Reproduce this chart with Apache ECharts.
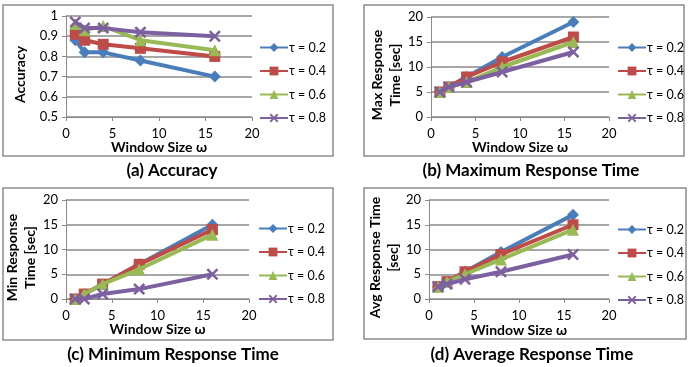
<!DOCTYPE html>
<html>
<head>
<meta charset="utf-8">
<script src="https://cdn.jsdelivr.net/npm/echarts@6/dist/echarts.min.js"></script>
<style>
html,body{margin:0;padding:0;background:#fff;}
#chart{width:688px;height:367px;}
</style>
</head>
<body>
<div id="chart"></div>
<script>
// ---- data ----
const windowSizes = [1, 2, 4, 8, 16];
const seriesNames = ['τ = 0.2', 'τ = 0.4', 'τ = 0.6', 'τ = 0.8'];

const accuracy02 = [0.88, 0.82, 0.82, 0.78, 0.70];
const accuracy04 = [0.91, 0.88, 0.86, 0.84, 0.80];
const accuracy06 = [0.96, 0.93, 0.95, 0.88, 0.83];
const accuracy08 = [0.97, 0.94, 0.94, 0.92, 0.90];

const maxResp02 = [5, 6, 8, 12, 19];
const maxResp04 = [5, 6, 8, 11, 16];
const maxResp06 = [5, 6, 7, 10, 15];
const maxResp08 = [5, 6, 7, 9, 13];

const minResp02 = [0, 1, 3, 7, 15];
const minResp04 = [0, 1, 3, 7, 14];
const minResp06 = [0, 1, 3, 6, 13];
const minResp08 = [0, 0, 1, 2, 5];

const avgResp02 = [2.5, 3.5, 5.5, 9.5, 17];
const avgResp04 = [2.5, 3.5, 5.5, 9, 15];
const avgResp06 = [2.5, 3.5, 5, 8, 14];
const avgResp08 = [2.5, 3, 4, 5.5, 9];

const xTicks = [0, 5, 10, 15, 20];
const accuracyTicks = [0.5, 0.6, 0.7, 0.8, 0.9, 1];
const timeTicks = [0, 5, 10, 15, 20];

const panelCaptions = ['(a) Accuracy', '(b) Maximum Response Time', '(c) Minimum Response Time', '(d) Average Response Time'];
const yNames = ['Accuracy', 'Max Response\nTime [sec]', 'Min Response\nTime [sec]', 'Avg Response Time\n[sec]'];
const xName = 'Window Size ω';

const panelData = [
  [accuracy02, accuracy04, accuracy06, accuracy08],
  [maxResp02, maxResp04, maxResp06, maxResp08],
  [minResp02, minResp04, minResp06, minResp08],
  [avgResp02, avgResp04, avgResp06, avgResp08]
];

// ---- styling ----
const FONT = 'Lato';
const colors = ['#4A7EBB', '#BE4B48', '#98B954', '#7D60A0'];
const xSym = 'path://M0,1.5 L1.5,0 L5,3.5 L8.5,0 L10,1.5 L6.5,5 L10,8.5 L8.5,10 L5,6.5 L1.5,10 L0,8.5 L3.5,5 Z';
const symbols = ['diamond', 'rect', 'triangle', xSym];
const symbolSizes = [12, 11, 12, 12];
const grids = [
  {left: 66, top: 16, width: 186, height: 101},
  {left: 431, top: 17, width: 178, height: 100},
  {left: 66, top: 200, width: 183, height: 99},
  {left: 429, top: 200, width: 180, height: 99}
];
const legendPos = [
  {left: 259, top: 41},
  {left: 617, top: 41},
  {left: 258, top: 222},
  {left: 617, top: 223}
];
const captionPos = [
  {x: 167, y: 157},
  {x: 526, y: 157},
  {x: 168, y: 341},
  {x: 527, y: 341}
];
const borders = [
  {x: 3, y: 5, w: 330, h: 151},
  {x: 364, y: 5, w: 320, h: 151},
  {x: 3, y: 188, w: 330, h: 152},
  {x: 364, y: 188, w: 322, h: 151}
];
const yNameGap = [37, 27, 26, 25];
const xNameGap = [22, 22, 23, 24];

const gridColor = '#8A8A8A';

const option = {
  animation: false,
  backgroundColor: '#fff',
  textStyle: {fontFamily: FONT},
  title: captionPos.map((p, i) => ({
    text: panelCaptions[i],
    left: p.x, top: p.y,
    textAlign: 'center',
    textStyle: {fontFamily: FONT, fontSize: 17, fontWeight: 'bold', color: '#000'}
  })),
  graphic: borders.map(b => ({
    type: 'rect', shape: {x: b.x, y: b.y, width: b.w, height: b.h},
    style: {fill: null, stroke: '#8C8C8C', lineWidth: 1.5}, silent: true
  })),
  grid: grids,
  legend: legendPos.map((p, i) => ({
    orient: 'vertical', left: p.left, top: p.top,
    data: seriesNames, itemWidth: 28, itemHeight: 11, itemGap: 10.5,
    padding: 0, selectedMode: false,
    textStyle: {fontFamily: FONT, fontSize: 12.5, color: '#000', padding: [0, 0, 0, -4]}
  })),
  xAxis: grids.map((g, i) => ({
    type: 'value', gridIndex: i, min: xTicks[0], max: xTicks[xTicks.length - 1], interval: 5,
    name: xName, nameLocation: 'middle', nameGap: xNameGap[i],
    nameTextStyle: {fontFamily: FONT, fontSize: 14, fontWeight: 'bold', color: '#000'},
    axisLine: {show: true, lineStyle: {color: gridColor, width: 1}},
    axisTick: {show: true, length: 4, lineStyle: {color: gridColor}},
    axisLabel: {fontFamily: FONT, fontSize: 13, color: '#000', margin: 10},
    splitLine: {show: false}
  })),
  yAxis: grids.map((g, i) => {
    const ticks = i === 0 ? accuracyTicks : timeTicks;
    return {
      type: 'value', gridIndex: i, min: ticks[0], max: ticks[ticks.length - 1],
      interval: i === 0 ? 0.1 : 5,
      name: yNames[i], nameLocation: 'middle', nameGap: yNameGap[i], nameRotate: 90,
      nameTextStyle: {fontFamily: FONT, fontSize: 14, fontWeight: 'bold', color: '#000', lineHeight: 18,
        padding: [0, 16, 0, 0]},
      axisLine: {show: true, lineStyle: {color: gridColor, width: 1}},
      axisTick: {show: true, length: 4, lineStyle: {color: gridColor}},
      axisLabel: {fontFamily: FONT, fontSize: 13, color: '#000', margin: 8,
        formatter: v => (Math.round(v * 10) / 10).toString()},
      splitLine: {show: true, lineStyle: {color: gridColor, width: 1.5}}
    };
  }),
  series: []
};

panelData.forEach((panel, p) => {
  panel.forEach((vals, s) => {
    option.series.push({
      type: 'line', name: seriesNames[s], xAxisIndex: p, yAxisIndex: p,
      data: windowSizes.map((x, k) => [x, vals[k]]),
      symbol: symbols[s], symbolSize: symbolSizes[s],
      lineStyle: {color: colors[s], width: 4},
      itemStyle: {color: colors[s]},
      z: 2 + s
    });
  });
});

const chart = echarts.init(document.getElementById('chart'), null, {renderer: 'canvas'});
chart.setOption(option);
</script>
</body>
</html>
